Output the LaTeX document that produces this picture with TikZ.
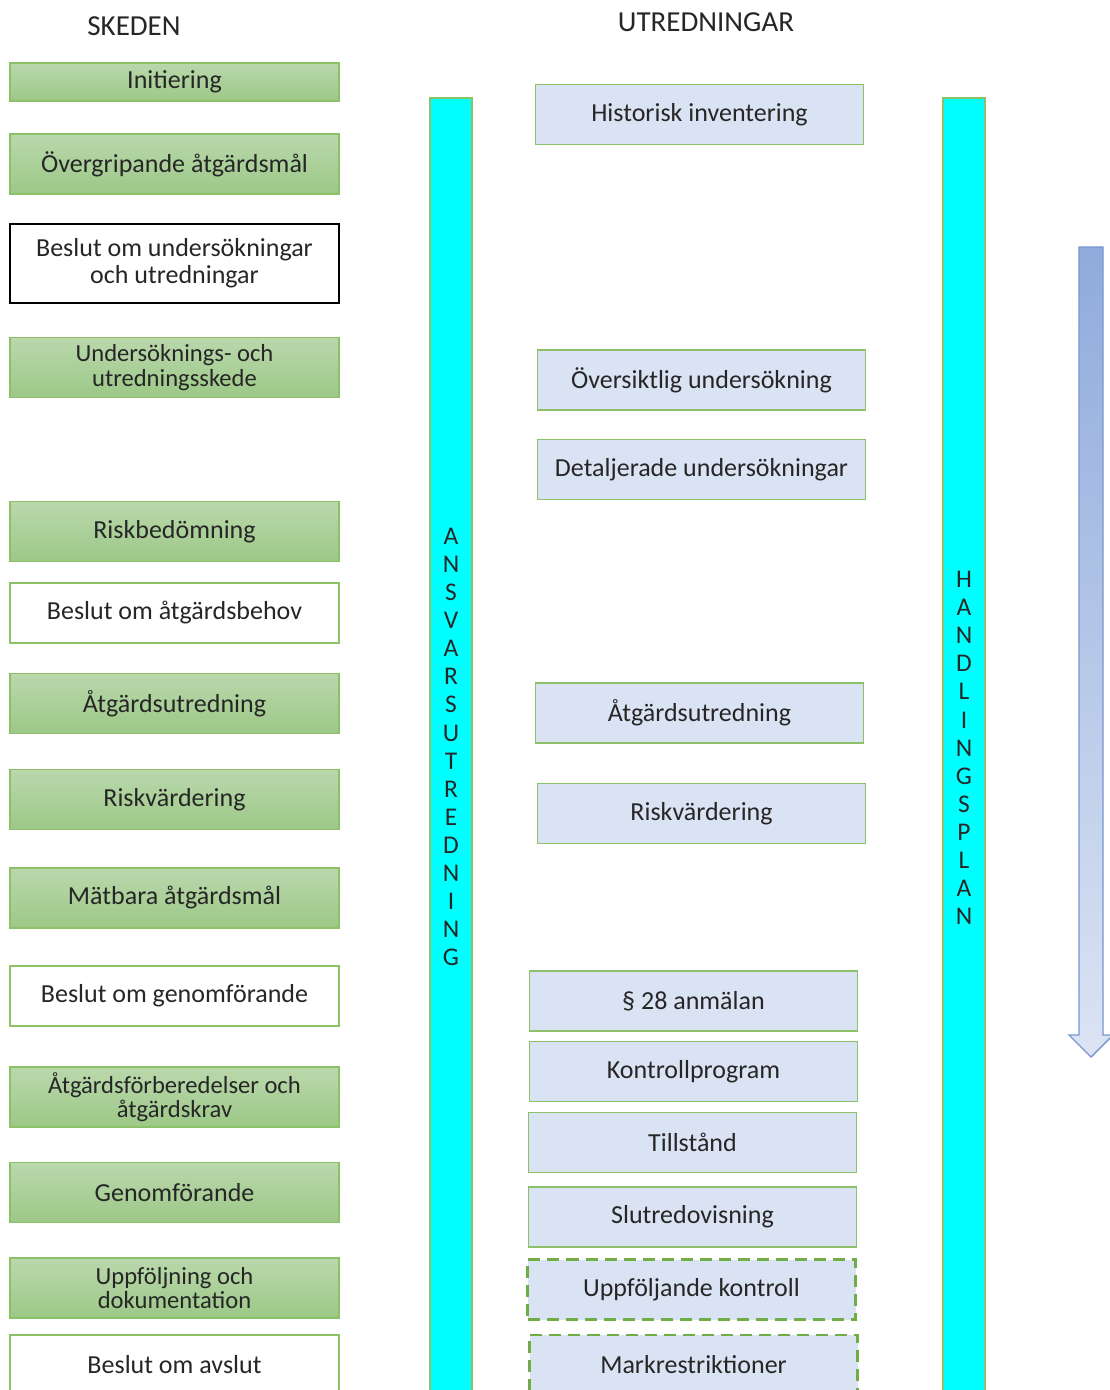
\documentclass[tikz,border=0pt]{standalone}
\usepackage{fontspec}
\setmainfont{Carlito}
\usetikzlibrary{positioning,calc}
\definecolor{greentop}{HTML}{BAD8AC}
\definecolor{greenbot}{HTML}{9CC887}
\definecolor{boxline}{HTML}{8CC168}
\definecolor{dashline}{HTML}{70AD47}
\definecolor{bluefill}{HTML}{DAE3F3}
\definecolor{cyanbar}{HTML}{00FFFF}
\definecolor{arrowtop}{HTML}{8FAADC}
\definecolor{arrowbot}{HTML}{DCE4F4}
\definecolor{arrowline}{HTML}{7A96CC}
\definecolor{txt}{HTML}{262626}
\tikzset{box/.style={draw=boxline, line width=1pt, minimum width=6.58cm, minimum height=1.2cm, inner sep=2pt, align=center, text=txt, font=\fontsize{14.8}{15.5}\selectfont}}
\tikzstyle{skede}=[box, top color=greentop, bottom color=greenbot]
\tikzstyle{beslut}=[box, fill=white]
\tikzstyle{utr}=[box, fill=bluefill, minimum width=6.56cm]
\tikzstyle{utrdash}=[utr, draw=dashline, line width=1.4pt, dash pattern=on 0.24cm off 0.14cm]
\tikzstyle{bar}=[draw=boxline, line width=1pt, fill=cyanbar, minimum width=0.84cm, inner sep=0pt, align=center, text=txt, font=\fontsize{14.5}{16}\selectfont]
\tikzstyle{small}=[font=\fontsize{14}{13.8}\selectfont]
\tikzstyle{rubrik}=[text=txt, font=\fontsize{16.5}{18}\selectfont]
\begin{document}
\begin{tikzpicture}
\clip (0,0) rectangle (22.2,-27.8);

\node[rubrik] (skeden) at (2.68,-0.52) {SKEDEN};
\node[rubrik] (utredningar) at (14.12,-0.44) {UTREDNINGAR};

\node[skede, minimum height=0.76cm] (init) at (3.49,-1.64) {Initiering};
\node[skede] (overgr) at (3.49,-3.28) {Övergripande åtgärdsmål};
\node[beslut, draw=black, line width=1.7pt, minimum height=1.58cm] (beslutund) at (3.49,-5.27) {Beslut om undersökningar\\och utredningar};
\node[skede, small] (undskede) at (3.49,-7.35) {Undersöknings- och\\utredningsskede};
\node[skede] (riskbed) at (3.49,-10.63) {Riskbedömning};
\node[beslut] (beslutatg) at (3.49,-12.26) {Beslut om åtgärdsbehov};
\node[skede] (atgutr) at (3.49,-14.07) {Åtgärdsutredning};
\node[skede] (riskvard) at (3.49,-15.99) {Riskvärdering};
\node[skede] (matbara) at (3.49,-17.96) {Mätbara åtgärdsmål};
\node[beslut] (beslutgen) at (3.49,-19.92) {Beslut om genomförande};
\node[skede, small] (atgforb) at (3.49,-21.94) {Åtgärdsförberedelser och\\åtgärdskrav};
\node[skede] (genomf) at (3.49,-23.85) {Genomförande};
\node[skede, small] (uppf) at (3.49,-25.76) {Uppföljning och\\dokumentation};
\node[beslut] (beslutavs) at (3.49,-27.3) {Beslut om avslut};

\node[bar, minimum height=25.96cm] (ansvar) at (9.02,-14.94) {A\\N\\S\\V\\A\\R\\S\\U\\T\\R\\E\\D\\N\\I\\N\\G};
\node[bar, minimum height=26cm] (handl) at (19.28,-14.96) {H\\A\\N\\D\\L\\I\\N\\G\\S\\P\\L\\A\\N};

\node[utr] (hist) at (13.99,-2.29) {Historisk inventering};
\node[utr] (oversikt) at (14.03,-7.6) {Översiktlig undersökning};
\node[utr] (detalj) at (14.03,-9.39) {Detaljerade undersökningar};
\node[utr] (atgutr2) at (13.99,-14.26) {Åtgärdsutredning};
\node[utr] (riskvard2) at (14.03,-16.27) {Riskvärdering};
\node[utr] (anmalan) at (13.87,-20.02) {§ 28 anmälan};
\node[utr] (kontroll) at (13.87,-21.43) {Kontrollprogram};
\node[utr] (tillstand) at (13.85,-22.85) {Tillstånd};
\node[utr] (slutred) at (13.85,-24.34) {Slutredovisning};
\node[utrdash] (uppfkontr) at (13.83,-25.79) {Uppföljande kontroll};
\node[utrdash] (markrestr) at (13.87,-27.3) {Markrestriktioner};

\shade[top color=arrowtop, bottom color=arrowbot, draw=arrowline, line width=0.8pt]
  (21.58,-4.94) -- (22.06,-4.94) -- (22.06,-20.7) -- (22.26,-20.7) -- (21.82,-21.14)
  -- (21.38,-20.7) -- (21.58,-20.7) -- cycle;
\end{tikzpicture}
\end{document}
